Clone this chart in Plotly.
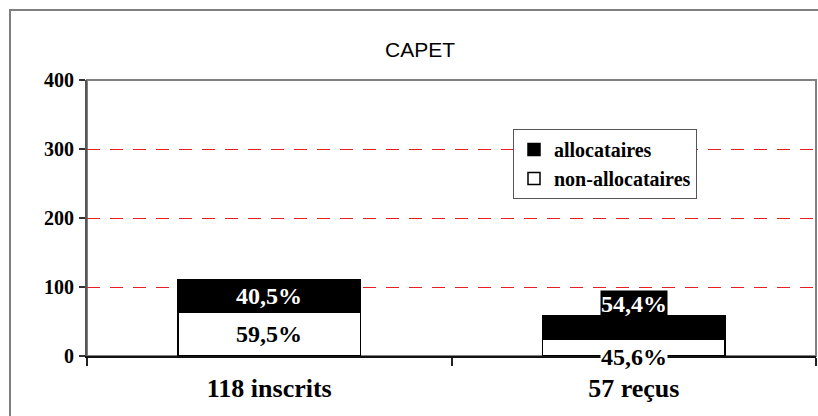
import plotly.graph_objects as go

categories = ["118 inscrits", "57 reçus"]
non_allocataires = [63, 24]
allocataires = [48, 34]
pct_non = ["59,5%", "45,6%"]
pct_alloc = ["40,5%", "54,4%"]
y_ticks = [0, 100, 200, 300, 400]

SERIF = "'Liberation Serif', 'Times New Roman', Times, serif"

fig = go.Figure()
fig.add_trace(go.Bar(
    x=categories, y=non_allocataires, name="non-allocataires",
    marker=dict(color="white", line=dict(color="black", width=1.5)),
    width=0.5, hoverinfo="skip",
))
fig.add_trace(go.Bar(
    x=categories, y=allocataires, name="allocataires",
    marker=dict(color="black", line=dict(color="black", width=1.5)),
    width=0.5, hoverinfo="skip",
))

# label offsets (Excel-like placement on the second bar)
alloc_shift = [0, 24]
non_shift = [0, -9]
for i, c in enumerate(categories):
    fig.add_annotation(
        x=c, y=non_allocataires[i] + allocataires[i] / 2, yshift=alloc_shift[i],
        text=pct_alloc[i], showarrow=False,
        font=dict(family=SERIF, size=24, color="white", weight=700),
        bgcolor="black", borderpad=0,
    )
    fig.add_annotation(
        x=c, y=non_allocataires[i] / 2, yshift=non_shift[i],
        text=pct_non[i], showarrow=False,
        font=dict(family=SERIF, size=24, color="black", weight=700),
        bgcolor="white", borderpad=0,
    )

# plot area border (top/right grey)
fig.add_shape(type="rect", xref="paper", yref="paper", x0=0, x1=1, y0=0, y1=1,
              line=dict(color="#808080", width=2), layer="below")
# outer chart frame
fig.add_shape(type="rect", xref="paper", yref="paper",
              x0=(10 - 87) / 729, x1=(840 - 87) / 729,
              y0=(356 - 440) / 276, y1=(356 - 10) / 276,
              line=dict(color="#7f7f7f", width=2), layer="below")

fig.update_layout(
    width=818, height=416,
    margin=dict(l=87, r=2, t=80, b=60),
    paper_bgcolor="white", plot_bgcolor="white",
    barmode="stack",
    font=dict(family=SERIF, color="black"),
    title=dict(text="CAPET", x=420 / 818, xref="container", xanchor="center",
               y=1 - 50 / 416, yref="container", yanchor="middle",
               font=dict(family="'Liberation Sans', Arial, sans-serif", size=21, color="black")),
    legend=dict(
        x=(697 - 87) / 729, xanchor="right", y=(356 - 129) / 276, yanchor="top",
        bgcolor="white", bordercolor="#555", borderwidth=1,
        font=dict(family=SERIF, size=20, color="black", weight=700),
        traceorder="reversed", itemwidth=30,
    ),
    showlegend=True,
)
fig.update_xaxes(
    type="category", range=[-0.5, 1.5],
    showline=True, linecolor="#111", linewidth=2,
    ticks="outside", ticklen=8, tickcolor="#222", tickwidth=1.5,
    tickson="boundaries", ticklabelstandoff=8,
    tickfont=dict(family=SERIF, size=26, color="black", weight=700),
    showgrid=False, zeroline=False,
)
fig.update_yaxes(
    range=[0, 400], tickvals=y_ticks,
    showline=True, linecolor="#555", linewidth=2,
    ticks="outside", ticklen=6, tickcolor="#333", tickwidth=1.5,
    ticklabelstandoff=1,
    tickfont=dict(family=SERIF, size=20, color="black", weight=700),
    showgrid=True, gridcolor="#e62020", gridwidth=1.2, griddash="13px,10px",
    zeroline=False,
)

fig.write_html("out.html")
